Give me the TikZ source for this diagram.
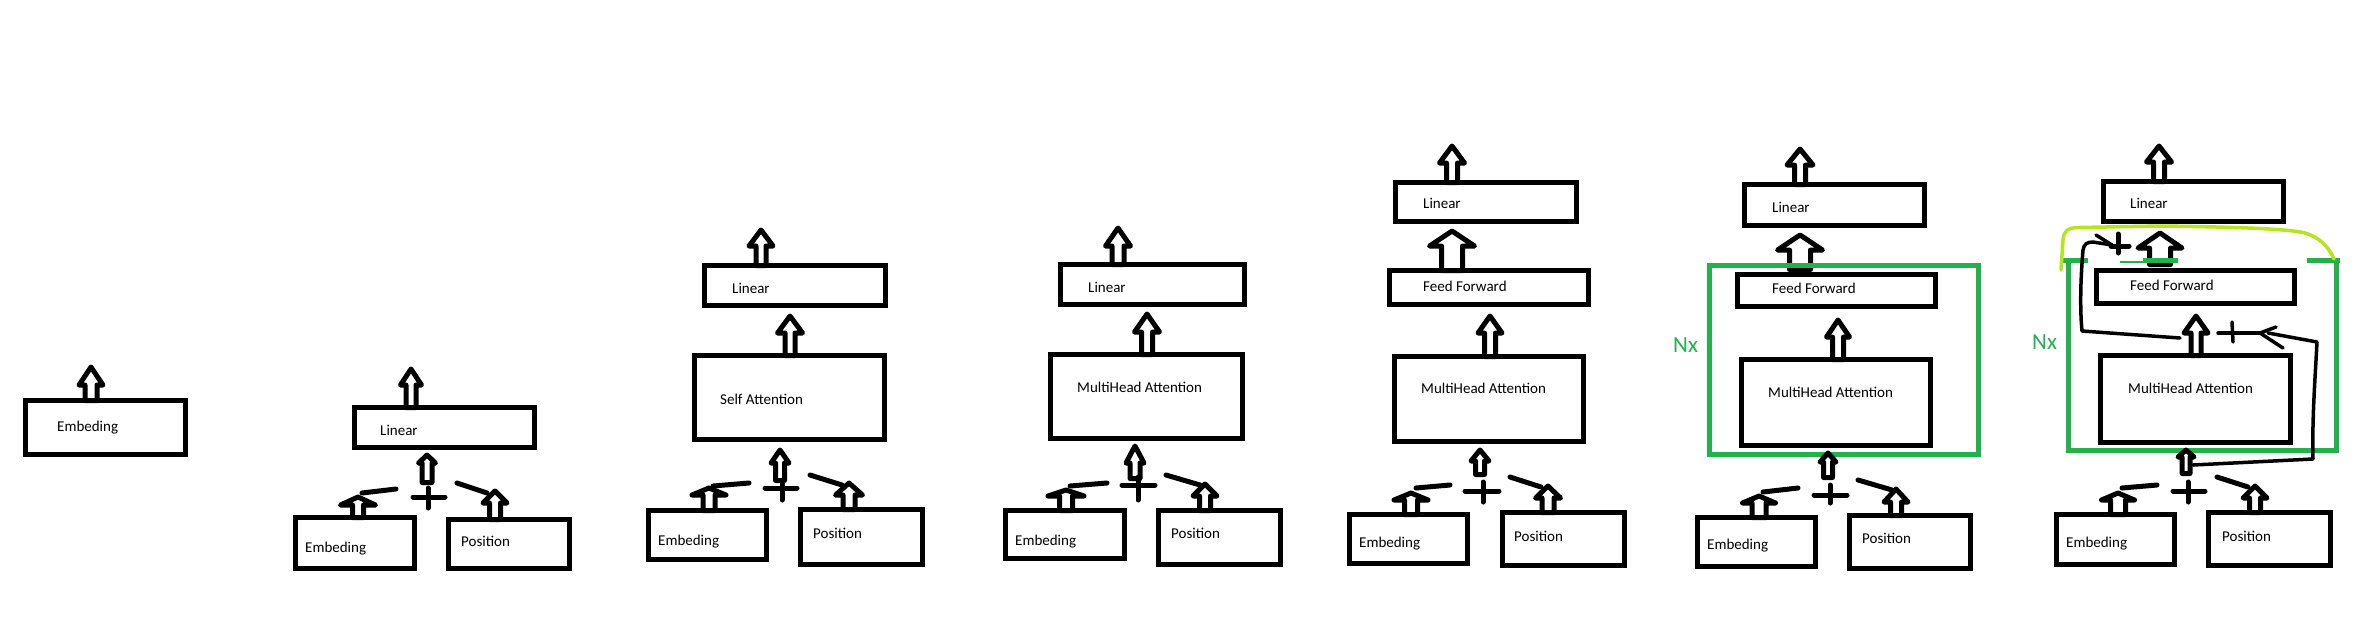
\documentclass[tikz,border=0pt]{standalone}
\usepackage{fontspec}
\setmainfont{Carlito}
\definecolor{pgreen}{HTML}{22B14C}
\definecolor{plime}{HTML}{B5E61D}
\tikzset{
  box/.style={draw=black, line width=5pt, fill=white, inner sep=0pt},
  lbl/.style={anchor=base west, inner sep=0pt, font=\fontsize{15}{18}\selectfont},
  nxlbl/.style={anchor=base west, inner sep=0pt, text=pgreen, font=\fontsize{23}{27}\selectfont},
  barrowstyle/.style={draw=black, line width=5pt, fill=white, line join=round},
  stroke/.style={line width=5pt, line cap=round},
  resid/.style={line width=3.5pt, line cap=round, line join=round},
  grn/.style={draw=pgreen, line width=5pt},
}
% box: name, x1, y1, x2, y2 (outer edges)
\newcommand\bx[5]{\node[box, minimum width={#4-#2-5}, minimum height={#5-#3-5}] (#1) at ({(#2+#4)/2},{(#3+#5)/2}) {};}
% block arrow: cx, tip y, head-base y, head half width, shaft half width, bottom y
\newcommand\barrow[6]{\draw[barrowstyle] ({#1-#5+2.5},{#6+2.5}) -- ({#1-#5+2.5},{#3}) -- ({#1-#4+2.5},{#3}) -- (#1,{#2+3}) -- ({#1+#4-2.5},{#3}) -- ({#1+#5-2.5},{#3}) -- ({#1+#5-2.5},{#6+2.5}) -- cycle;}
% plus sign: name, cx, cy, x1, x2, y1, y2
\newcommand\plussign[7]{\coordinate (#1) at (#2,#3); \draw[stroke] (#4,#3) -- (#5,#3) (#2,#6) -- (#2,#7);}
\begin{document}
\begin{tikzpicture}[x=1pt,y=-1pt]
\fill[white] (0,0) rectangle (2359,633);
\useasboundingbox (0,0) rectangle (2359,633);

% ---------- Panel 1 ----------
\bx{emb1}{23}{398}{188}{457}
\node[lbl] (temb1) at (57,431) {Embeding};
\barrow{91}{364}{385}{14.5}{8.5}{398}

% ---------- Panel 2 ----------
\bx{lin2}{352}{405}{537}{450}
\node[lbl] (tlin2) at (380,435) {Linear};
\barrow{411}{366}{385}{13}{7.5}{405}
\barrow{427}{452}{463}{11}{7.5}{480}
\plussign{p2}{428}{497}{413}{445}{488}{508}
\draw[stroke] (362,493) -- (396,489);
\bx{emb2}{293}{515}{417}{571}
\node[lbl] (temb2) at (305,552) {Embeding};
\barrow{358}{494}{505}{20}{8}{515}
\draw[stroke] (457,483) -- (487,493);
\bx{pos2}{446}{517}{572}{571}
\node[lbl] (tpos2) at (461,546) {Position};
\barrow{495}{488}{503}{14.5}{8}{517}

% ---------- Panel 3 ----------
\bx{lin3}{702}{263}{888}{308}
\node[lbl] (tlin3) at (732,293) {Linear};
\barrow{761}{227}{246}{14.5}{7.5}{263}
\bx{sa3}{692}{353}{887}{442}
\node[lbl] (tsa3) at (720,404) {Self Attention};
\barrow{790}{313}{333}{15}{7.5}{353}
\barrow{780}{447}{463}{11.5}{7}{478}
\plussign{p3}{782}{488}{765}{797}{480}{500}
\draw[stroke] (713,486) -- (749,483);
\bx{emb3}{646}{508}{769}{562}
\node[lbl] (temb3) at (658,545) {Embeding};
\barrow{709}{485}{495}{19.5}{8.5}{508}
\draw[stroke] (810,475) -- (842,485);
\bx{pos3}{798}{507}{925}{567}
\node[lbl] (tpos3) at (813,538) {Position};
\barrow{849}{480}{495}{16}{8.5}{507}

% ---------- Panel 4 ----------
\bx{lin4}{1058}{262}{1247}{307}
\node[lbl] (tlin4) at (1088,292) {Linear};
\barrow{1118}{225}{246}{15}{8.5}{262}
\bx{mha4}{1048}{352}{1245}{441}
\node[lbl] (tmha4) at (1077,392) {MultiHead Attention};
\barrow{1147}{311}{332}{15}{8}{352}
\barrow{1135}{443}{463}{11.5}{7.5}{476}
\plussign{p4}{1138}{485}{1122}{1155}{477}{500}
\draw[stroke] (1070,486) -- (1107,483);
\bx{emb4}{1003}{508}{1127}{561}
\node[lbl] (temb4) at (1015,545) {Embeding};
\barrow{1066}{487}{496}{20.5}{9}{508}
\draw[stroke] (1166,475) -- (1200,485);
\bx{pos4}{1156}{508}{1283}{567}
\node[lbl] (tpos4) at (1171,538) {Position};
\barrow{1205}{481}{496}{14.5}{8}{508}

% ---------- Panel 5 ----------
\bx{lin5}{1393}{180}{1579}{224}
\node[lbl] (tlin5) at (1423,208) {Linear};
\barrow{1452}{143}{163}{15}{8}{180}
\bx{ff5}{1387}{268}{1591}{307}
\node[lbl] (tff5) at (1423,291) {Feed Forward};
\barrow{1452}{228}{246}{25}{13}{268}
\bx{mha5}{1392}{354}{1586}{444}
\node[lbl] (tmha5) at (1421,393) {MultiHead Attention};
\barrow{1490}{313}{333}{14.5}{8}{354}
\barrow{1480}{447}{461}{11.5}{7}{472}
\plussign{p5}{1483}{491}{1465}{1499}{482}{502}
\draw[stroke] (1416,488) -- (1450,485);
\bx{emb5}{1347}{512}{1470}{566}
\node[lbl] (temb5) at (1359,547) {Embeding};
\barrow{1411}{490}{500}{19.5}{9}{512}
\draw[stroke] (1510,477) -- (1541,487);
\bx{pos5}{1500}{510}{1627}{568}
\node[lbl] (tpos5) at (1514,541) {Position};
\barrow{1548}{483}{498}{15}{8.5}{510}

% ---------- Panel 6 ----------
\bx{lin6}{1742}{182}{1927}{228}
\node[lbl] (tlin6) at (1772,212) {Linear};
\barrow{1800}{146}{165}{15.5}{8}{182}
\barrow{1800}{232}{250}{25}{13}{267}
\bx{ff6}{1735}{272}{1938}{309}
\node[lbl] (tff6) at (1772,293) {Feed Forward};
\node[grn, minimum width=269, minimum height=189, inner sep=0pt] (enc6) at (1844,360) {};
\node[nxlbl] (nx6) at (1673,352) {Nx};
\bx{mha6}{1739}{357}{1933}{448}
\node[lbl] (tmha6) at (1768,397) {MultiHead Attention};
\barrow{1828}{450}{462}{10.5}{7}{475}
\barrow{1838}{317}{337}{14}{8}{357}
\plussign{p6}{1830}{495}{1814}{1847}{485}{503}
\draw[stroke] (1763,492) -- (1798,488);
\bx{emb6}{1695}{515}{1818}{569}
\node[lbl] (temb6) at (1707,549) {Embeding};
\barrow{1759}{493}{503}{19}{9.5}{515}
\draw[stroke] (1858,480) -- (1892,490);
\bx{pos6}{1847}{513}{1973}{571}
\node[lbl] (tpos6) at (1862,543) {Position};
\barrow{1896}{486}{502}{14.5}{8}{513}

% ---------- Panel 7 ----------
\bx{lin7}{2101}{179}{2286}{224}
\node[lbl] (tlin7) at (2130,208) {Linear};
\barrow{2159}{143}{162}{15}{8}{179}
\barrow{2160}{230}{248}{24.5}{13}{262}
% broken green frame
\draw[grn] (2068.5,258) -- (2068.5,450.5) -- (2336.5,450.5) -- (2336.5,258);
\draw[grn] (2063,260.5) -- (2088,260.5);
\draw[draw=pgreen, line width=2pt] (2120,262) -- (2178,262);
\draw[grn] (2143,260.5) -- (2178,260.5);
\draw[grn] (2307,260.5) -- (2340,260.5);
\node[nxlbl] (nx7) at (2032,349) {Nx};
% lime loop
\draw[plime, line width=3.5pt, line cap=round, line join=round]
  (2061,270) -- (2063,240) .. controls (2064,231) and (2067,228) .. (2078,227.5)
  -- (2160,226) .. controls (2240,227) and (2290,229) .. (2305,233)
  .. controls (2318,237) and (2328,245) .. (2334,259);
\bx{ff7}{2094}{268}{2297}{306}
\node[lbl] (tff7) at (2130,290) {Feed Forward};
\bx{mha7}{2098}{353}{2293}{445}
\node[lbl] (tmha7) at (2128,393) {MultiHead Attention};
\barrow{2196}{313}{333}{14.5}{7.5}{353}
\barrow{2186}{447}{457}{10.5}{6.5}{471}
\plussign{p7}{2188}{491}{2173}{2205}{482}{502}
\draw[stroke] (2122,488) -- (2157,485);
\bx{emb7}{2054}{512}{2177}{567}
\node[lbl] (temb7) at (2066,547) {Embeding};
\barrow{2118}{490}{500}{19}{10}{512}
\draw[stroke] (2217,477) -- (2248,487);
\bx{pos7}{2206}{510}{2333}{568}
\node[lbl] (tpos7) at (2222,541) {Position};
\barrow{2255}{483}{498}{14.5}{8}{510}
% residual connections
\coordinate (rlstart) at (2180,338);
\coordinate (rlend) at (2112,245);
\draw[resid] (rlstart) -- (2082,331) .. controls (2079,300) and (2082,262) .. (2083,250)
  .. controls (2084,244) and (2087,242) .. (2093,242) -- (rlend);
\draw[resid] (2096,235) -- (rlend);
\plussign{pr1}{2118}{246}{2111}{2129}{234}{253}
\coordinate (rrstart) at (2193,465);
\coordinate (rrtip) at (2260,333);
\draw[resid] (rrstart) -- (2313,459) .. controls (2312,420) and (2315,380) .. (2317,342) -- (2268,333);
\draw[resid] (2276,327) -- (rrtip) -- (2283,348);
\draw[resid] (rrtip) -- (2218,333);
\draw[resid] (2232,322) -- (2233,342);
\end{tikzpicture}
\end{document}
